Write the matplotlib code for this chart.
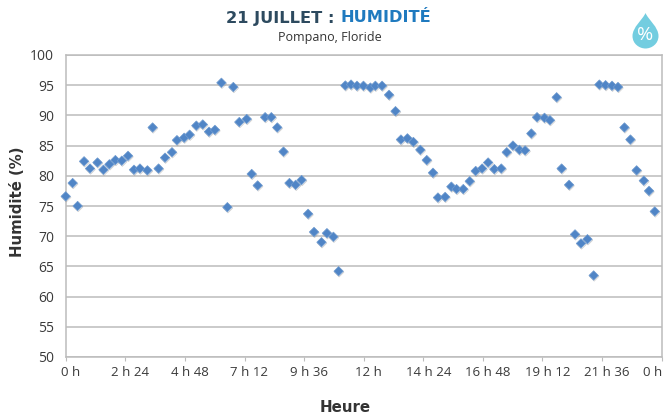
import matplotlib
matplotlib.use('Agg')
import matplotlib.pyplot as plt
import matplotlib.patheffects as pe
from matplotlib.patches import PathPatch
from matplotlib.path import Path
from matplotlib.transforms import ScaledTranslation

# time of each reading, in hours
hours = [0.00, 0.28, 0.48, 0.74, 0.98, 1.28, 1.52, 1.76, 2.00, 2.26, 2.51, 2.75,
         2.99, 3.29, 3.50, 3.74, 4.00, 4.28, 4.48, 4.77, 4.99, 5.26, 5.52, 5.77,
         6.01, 6.27, 6.51, 6.75, 6.99, 7.29, 7.49, 7.73, 8.03, 8.28, 8.52, 8.77,
         9.01, 9.26, 9.50, 9.76, 10.00, 10.30, 10.52, 10.78, 10.99, 11.26, 11.49, 11.73,
         11.99, 12.27, 12.47, 12.74, 13.02, 13.28, 13.50, 13.76, 14.00, 14.28, 14.54, 14.79,
         14.99, 15.28, 15.53, 15.74, 16.01, 16.27, 16.51, 16.77, 17.01, 17.26, 17.54, 17.76,
         18.01, 18.27, 18.50, 18.75, 18.98, 19.28, 19.50, 19.77, 19.97, 20.27, 20.51, 20.75,
         21.01, 21.26, 21.49, 21.74, 22.00, 22.24, 22.50, 22.74, 22.99, 23.28, 23.49, 23.72]

humidity = [76.6, 78.8, 75.0, 82.4, 81.2, 82.2, 81.0, 81.9, 82.6, 82.5, 83.3, 81.0,
            81.2, 80.9, 88.0, 81.2, 83.0, 83.9, 85.9, 86.3, 86.8, 88.3, 88.5, 87.3,
            87.6, 95.4, 74.8, 94.7, 88.9, 89.4, 80.3, 78.4, 89.7, 89.7, 88.0, 84.0,
            78.8, 78.5, 79.3, 73.7, 70.7, 69.0, 70.5, 69.9, 64.2, 94.95, 95.1, 94.9,
            94.9, 94.6, 94.9, 94.9, 93.4, 90.7, 86.0, 86.2, 85.6, 84.3, 82.6, 80.5,
            76.4, 76.5, 78.2, 77.8, 77.8, 79.1, 80.8, 81.2, 82.2, 81.1, 81.2, 83.9,
            85.0, 84.3, 84.2, 87.0, 89.7, 89.6, 89.2, 93.0, 81.2, 78.5, 70.3, 68.8,
            69.5, 63.5, 95.1, 95.0, 94.9, 94.7, 88.0, 86.0, 80.9, 79.2, 77.5, 74.1]

x_ticks = [0, 2.4, 4.8, 7.2, 9.6, 12, 14.4, 16.8, 19.2, 21.6, 24]
x_labels = ['0 h', '2 h 24', '4 h 48', '7 h 12', '9 h 36', '12 h',
            '14 h 24', '16 h 48', '19 h 12', '21 h 36', '0 h']
y_ticks = [50, 55, 60, 65, 70, 75, 80, 85, 90, 95, 100]

W, H = 664, 417
GRID = '#bcbcbc'
TEXT = '#3a3a3a'

plt.rcParams['font.family'] = ['Open Sans', 'DejaVu Sans']

fig = plt.figure(figsize=(W / 100, H / 100), dpi=100)
ax = fig.add_axes([65.7 / W, 1 - 357 / H, 596 / W, 302 / H])

shadow = [pe.SimpleLineShadow(offset=(0.4, -0.7), shadow_color='#8a8a8a', alpha=0.45), pe.Normal()]
ax.scatter(hours, humidity, marker='D', s=23, color='#5085c6', edgecolors='#6f9bd0',
           linewidths=0.5, zorder=3, clip_on=False, path_effects=shadow)

ax.set_xlim(0, 24)
ax.set_ylim(50, 100)
ax.set_xticks(x_ticks)
ax.set_xticklabels(x_labels)
ax.set_yticks(y_ticks)
ax.grid(True, axis='y', color=GRID, linewidth=1.1)
ax.set_axisbelow(True)
for spine in ax.spines.values():
    spine.set_color(GRID)
    spine.set_linewidth(1.1)
ax.tick_params(axis='x', length=3, color=GRID, labelsize=9.5, labelcolor=TEXT, pad=3.5)
ax.tick_params(axis='y', length=0, labelsize=10, labelcolor=TEXT, pad=8.5)

# x labels sit about 5 px right of their ticks in the original
nudge = ScaledTranslation(5 / 100, 0, fig.dpi_scale_trans)
for label in ax.get_xticklabels():
    label.set_transform(label.get_transform() + nudge)
# last label is pulled in so it stays on the canvas
last = ax.get_xticklabels()[-1]
last.set_horizontalalignment('right')
last.set_transform(last.get_transform() + ScaledTranslation(-4 / 100, 0, fig.dpi_scale_trans))

fig.text(345 / W, 1 - 408 / H, 'Heure', ha='center', va='center', fontsize=10.8,
         fontweight='bold', color='#333333', family=['DejaVu Sans'])
fig.text(18 / W, 1 - 202 / H, 'Humidité (%)', rotation=90, ha='center', va='center',
         fontsize=10.7, fontweight='bold', color='#333333', family=['DejaVu Sans'])

# title in two colours
fig.text(335 / W, 1 - 18 / H, '21 JUILLET :', ha='right', va='center', fontsize=11.7,
         fontweight='bold', color='#2d4a5f', family=['DejaVu Sans'])
fig.text(341 / W, 1 - 18 / H, 'HUMIDITÉ', ha='left', va='center', fontsize=11.7,
         fontweight='bold', color='#1f7abf', family=['DejaVu Sans'])
fig.text(330 / W, 1 - 37.5 / H, 'Pompano, Floride', ha='center', va='center', fontsize=9,
         color='#333333')

# water drop icon, in figure pixels
cx, top, bot, r = 645.5, 13, 48.5, 13
verts = [(cx, top), (cx - 3, 20), (cx - r, 27), (cx - r, 36),
         (cx - r, 44), (cx - 6, bot), (cx, bot),
         (cx + 6, bot), (cx + r, 44), (cx + r, 36),
         (cx + r, 27), (cx + 3, 20), (cx, top)]
codes = [Path.MOVETO] + [Path.CURVE4] * 12
drop = PathPatch(Path([(x / W, 1 - y / H) for x, y in verts], codes),
                 facecolor='#73cde0', edgecolor='none', transform=fig.transFigure)
fig.add_artist(drop)
fig.text(645.5 / W, 1 - 35 / H, '%', ha='center', va='center', fontsize=14,
         color='white', family=['Open Sans'])

fig.savefig('out.png', dpi=100)
